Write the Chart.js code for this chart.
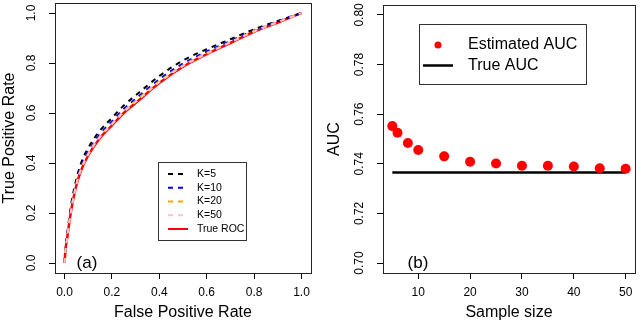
<!DOCTYPE html>
<html>
<head>
<meta charset="utf-8">
<script src="https://cdn.jsdelivr.net/npm/chart.js@4.4.1/dist/chart.umd.min.js"></script>
<style>
  body { margin: 0; background: #fff; }
  #wrap { position: relative; width: 640px; height: 326px; }
  canvas { position: absolute; top: 0; }
</style>
</head>
<body>
<div id="wrap">
  <canvas id="roc" width="320" height="326" style="left:0"></canvas>
  <canvas id="auc" width="320" height="326" style="left:320px"></canvas>
</div>
<script>
// panel (a): ROC curves
const fpr     = [0, 0.005, 0.01, 0.02, 0.03, 0.05, 0.07, 0.1, 0.15, 0.2, 0.25, 0.3, 0.4, 0.5, 0.6, 0.7, 0.8, 0.9, 1.0];
const tprK5   = [0, 0.07, 0.105, 0.18, 0.245, 0.335, 0.40, 0.46, 0.53, 0.58, 0.63, 0.67, 0.748, 0.81, 0.855, 0.895, 0.935, 0.968, 1.0];
const tprK10  = [0, 0.065, 0.097, 0.17, 0.232, 0.323, 0.386, 0.446, 0.516, 0.566, 0.616, 0.656, 0.735, 0.798, 0.846, 0.888, 0.93, 0.966, 1.0];
const tprK20  = [0, 0.062, 0.093, 0.165, 0.226, 0.317, 0.378, 0.438, 0.508, 0.558, 0.608, 0.648, 0.727, 0.791, 0.84, 0.884, 0.928, 0.964, 1.0];
const tprK50  = [0, 0.061, 0.091, 0.162, 0.223, 0.313, 0.373, 0.434, 0.504, 0.554, 0.604, 0.644, 0.723, 0.788, 0.837, 0.882, 0.926, 0.963, 1.0];
const tprTrue = [0, 0.06, 0.09, 0.16, 0.22, 0.31, 0.37, 0.43, 0.50, 0.55, 0.60, 0.64, 0.72, 0.785, 0.835, 0.88, 0.925, 0.962, 1.0];
const rocTicks = [0, 0.2, 0.4, 0.6, 0.8, 1.0];

// panel (b): AUC vs sample size
const sampleSizes = [5, 6, 8, 10, 15, 20, 25, 30, 35, 40, 45, 50];
const estAuc = [0.7552, 0.7525, 0.7484, 0.7456, 0.7430, 0.7408, 0.7401, 0.7392, 0.7392, 0.7389, 0.7382, 0.7380];
const trueAuc = 0.7365;
const sizeTicks = [10, 20, 30, 40, 50];
const aucTicks = [0.70, 0.72, 0.74, 0.76, 0.78, 0.80];

const FONT = "'Liberation Sans', Arial, Helvetica, sans-serif";
Chart.defaults.font.family = FONT;
Chart.defaults.color = '#000';

function pts(xs, ys) {
  return xs.map((x, i) => ({ x: x, y: ys[i] }));
}

// R-like frame: box, rotated y tick labels, panel tag
function framePlugin(tag, tagX, digits, legendFn) {
  return {
    id: 'frame',
    afterDraw(chart) {
      const ctx = chart.ctx;
      const a = chart.chartArea;
      const ys = chart.scales.y;
      ctx.save();
      ctx.strokeStyle = '#222';
      ctx.lineWidth = 1;
      ctx.strokeRect(a.left + 0.5, a.top + 0.5, a.right - a.left, a.bottom - a.top);

      ctx.fillStyle = '#000';
      ctx.font = '12px ' + FONT;
      ctx.textAlign = 'center';
      ctx.textBaseline = 'middle';
      ys.ticks.forEach(t => {
        const py = ys.getPixelForValue(t.value);
        ctx.save();
        ctx.translate(a.left - 23, py);
        ctx.rotate(-Math.PI / 2);
        ctx.fillText(t.value.toFixed(digits), 0, 0);
        ctx.restore();
      });

      ctx.font = '17px ' + FONT;
      ctx.fillText(tag, tagX, 263);
      legendFn(ctx, chart);
      ctx.restore();
    }
  };
}

function yAxis(min, max, ticks, width, title, titlePad) {
  return {
    type: 'linear', min: min, max: max,
    afterBuildTicks: s => { s.ticks = ticks.map(v => ({ value: v })); },
    afterFit: s => { s.width = width; },
    grid: { drawOnChartArea: false, tickLength: 6, color: '#000' },
    border: { display: false },
    ticks: { display: false },
    title: { display: true, text: title, font: { size: 16 }, padding: { top: titlePad, bottom: 0 } }
  };
}

function xAxis(min, max, ticks, digits, title) {
  return {
    type: 'linear', min: min, max: max,
    afterBuildTicks: s => { s.ticks = ticks.map(v => ({ value: v })); },
    afterFit: s => { s.height = 53; },
    grid: { drawOnChartArea: false, tickLength: 6, color: '#000' },
    border: { display: false },
    ticks: { font: { size: 12 }, padding: 6, maxRotation: 0, autoSkip: false,
             callback: v => Number(v).toFixed(digits) },
    title: { display: true, text: title, font: { size: 16 }, padding: { top: 0, bottom: 4 } }
  };
}

const dash = [5, 5];
const rocChart = new Chart(document.getElementById('roc').getContext('2d'), {
  type: 'line',
  data: {
    datasets: [
      { label: 'K=5', data: pts(fpr, tprK5), borderColor: '#000000', borderDash: dash, order: 3 },
      { label: 'K=10', data: pts(fpr, tprK10), borderColor: '#0000ff', borderDash: dash, order: 2 },
      { label: 'K=20', data: pts(fpr, tprK20), borderColor: '#ffa500', borderDash: dash, order: 1 },
      { label: 'K=50', data: pts(fpr, tprK50), borderColor: '#ffc0cb', borderDash: dash, order: 0 },
      { label: 'True ROC', data: pts(fpr, tprTrue), borderColor: '#ff0000', borderWidth: 2.5, order: 4 }
    ]
  },
  options: {
    responsive: false,
    animation: false,
    layout: { padding: { top: 3, right: 9, left: 0, bottom: 0 } },
    elements: {
      line: { borderWidth: 2, cubicInterpolationMode: 'monotone', fill: false },
      point: { radius: 0 }
    },
    scales: {
      x: xAxis(-0.04, 1.04, rocTicks, 1, 'False Positive Rate'),
      y: yAxis(-0.04, 1.04, rocTicks, 55, 'True Positive Rate', 0)
    },
    plugins: { legend: { display: false }, tooltip: { enabled: false } }
  },
  plugins: [framePlugin('(a)', 87, 1, (ctx, chart) => {
    ctx.strokeStyle = '#333';
    ctx.lineWidth = 1;
    ctx.strokeRect(158.5, 162.5, 88, 78);
    ctx.font = '10.5px ' + FONT;
    ctx.textAlign = 'left';
    chart.data.datasets.forEach((d, i) => {
      const y = 174 + i * 13.75;
      ctx.strokeStyle = d.borderColor;
      ctx.lineWidth = 2;
      ctx.setLineDash(d.borderDash || []);
      ctx.beginPath();
      ctx.moveTo(168, y);
      ctx.lineTo(188, y);
      ctx.stroke();
      ctx.setLineDash([]);
      ctx.fillStyle = '#000';
      ctx.fillText(d.label, 197, y);
    });
  })]
});

const aucChart = new Chart(document.getElementById('auc').getContext('2d'), {
  data: {
    datasets: [
      { type: 'scatter', label: 'Estimated AUC', data: pts(sampleSizes, estAuc),
        backgroundColor: '#ff0000', borderWidth: 0, pointRadius: 5 },
      { type: 'line', label: 'True AUC',
        data: [{ x: sampleSizes[0], y: trueAuc }, { x: sampleSizes[sampleSizes.length - 1], y: trueAuc }],
        borderColor: '#000', borderWidth: 2.5, pointRadius: 0 }
    ]
  },
  options: {
    responsive: false,
    animation: false,
    layout: { padding: { top: 3, right: 2, left: 0, bottom: 0 } },
    scales: {
      x: xAxis(3.2, 51.8, sizeTicks, 0, 'Sample size'),
      y: yAxis(0.696, 0.804, aucTicks, 63, 'AUC', 5)
    },
    plugins: { legend: { display: false }, tooltip: { enabled: false } }
  },
  plugins: [framePlugin('(b)', 98, 2, (ctx, chart) => {
    ctx.strokeStyle = '#333';
    ctx.lineWidth = 1;
    ctx.strokeRect(99.5, 24.5, 167, 60);
    const ds = chart.data.datasets;
    ctx.fillStyle = ds[0].backgroundColor;
    ctx.beginPath();
    ctx.arc(118, 45, 3.5, 0, Math.PI * 2);
    ctx.fill();
    ctx.strokeStyle = ds[1].borderColor;
    ctx.lineWidth = 2.5;
    ctx.beginPath();
    ctx.moveTo(103, 65.5);
    ctx.lineTo(133, 65.5);
    ctx.stroke();
    ctx.fillStyle = '#000';
    ctx.font = '16px ' + FONT;
    ctx.textAlign = 'left';
    ctx.fillText(ds[0].label, 148, 45);
    ctx.fillText(ds[1].label, 148, 65.5);
  })]
});
</script>
</body>
</html>
